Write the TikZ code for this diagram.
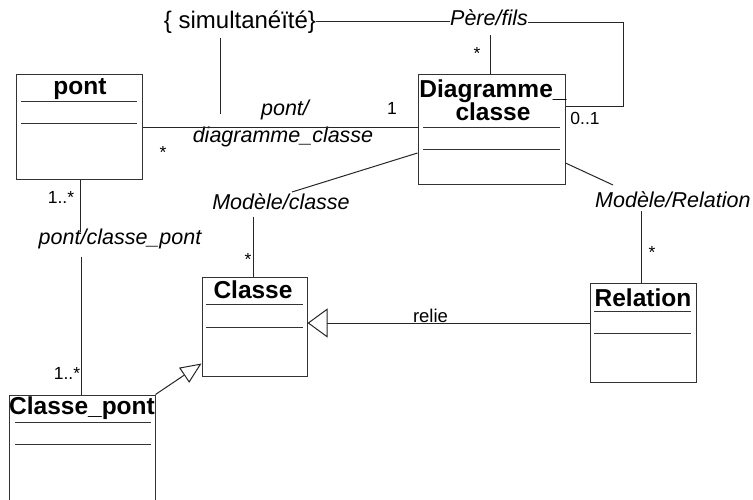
\documentclass[tikz,border=0pt]{standalone}
\usepackage{fontspec}
\setmainfont{Liberation Sans}
\usetikzlibrary{arrows.meta,calc}
\tikzset{
  cls/.style={draw=black!80, line width=1pt, inner sep=0pt},
  ttl/.style={font=\fontsize{24.5}{23}\selectfont\bfseries, inner sep=0pt},
  lab/.style={font=\fontsize{21.5}{24}\selectfont\itshape, inner sep=0pt},
  mult/.style={font=\fontsize{17.5}{20}\selectfont, inner sep=0pt},
  conn/.style={draw=black!85, line width=1pt},
  sepline/.style={draw=black!80, line width=1pt},
}
\begin{document}
\begin{tikzpicture}[x=1pt,y=-1pt]
\useasboundingbox (0,0) rectangle (753,500);
\clip (0,0) rectangle (753,500);

% class boxes
\node[cls, minimum width=126pt, minimum height=105pt] (pont) at (79,127.5) {};
\node[cls, minimum width=147pt, minimum height=110pt] (diag) at (491.5,130) {};
\node[cls, minimum width=105pt, minimum height=99pt] (classe) at (254.5,326.5) {};
\node[cls, minimum width=106pt, minimum height=99pt] (relation) at (643,332.5) {};
\node[cls, minimum width=146pt, minimum height=130pt] (cpont) at (82,460) {};

% titles
\node[ttl] (pontT) at (80,89) {pont};
\node[ttl, align=center] (diagT) at (493,100) {Diagramme\_\\classe};
\node[ttl] (classeT) at (253,290) {Classe};
\node[ttl] (relT) at (643,298) {Relation};
\node[ttl] (cpontT) at (82,408) {Classe\_pont};

% compartment separators
\draw[sepline] (21,102) -- (137,102);
\draw[sepline] (21,124) -- (137,124);
\draw[sepline] (423,128) -- (560,128);
\draw[sepline] (423,150) -- (560,150);
\draw[sepline] (206,304) -- (303,304);
\draw[sepline] (206,327) -- (303,327);
\draw[sepline] (594,311) -- (691,311);
\draw[sepline] (594,333) -- (691,333);
\draw[sepline] (15,422) -- (151,422);
\draw[sepline] (15,444) -- (151,444);

% labels
\node[font=\fontsize{24}{26}\selectfont, inner sep=0pt] (simul) at (240,22) {\{ simultanéïté\}};
\node[lab] (pf) at (489,18) {Père/fils};
\node[lab] (pd1) at (285,110) {pont/};
\node[lab] (pd2) at (283,137) {diagramme\_classe};
\node[lab] (mc) at (281,202) {Modèle/classe};
\node[lab, anchor=west] (mr) at (595,200) {Modèle/Relation};
\node[lab] (pcp) at (120,239) {pont/classe\_pont};
\node[font=\fontsize{18.5}{20}\selectfont, inner sep=0pt] (relie) at (430.5,316) {relie};

% multiplicities
\node[mult] (m1) at (163,152) {*};
\node[mult] (m2) at (392,108) {1};
\node[mult] (m3) at (477,53) {*};
\node[mult] (m4) at (585,118) {0..1};
\node[mult] (m5) at (248,259) {*};
\node[mult] (m6) at (652,252) {*};
\node[mult] (m7) at (61,197) {1..*};
\node[mult] (m8) at (67,373) {1..*};

% pont / diagramme_classe
\draw[conn] (pont.east) -- (pont.east -| diag.west);

% constraint and Pere/fils
\draw[conn] (simul.east) -- (simul.east -| pf.west);
\coordinate (pfc) at (623,107);
\draw[conn] (pf.east) ++(0,5) -| (pfc) -- (pfc -| diag.east);
\coordinate (pfb) at (490,35);
\draw[conn] (diag.north -| pfb) -- (pfb);
\coordinate (sv0) at (220,38);
\coordinate (sv) at (220,114);
\draw[conn] (sv0) -- (sv);

% Modele/classe
\coordinate (mcA) at (292,192);
\draw[conn] (diag.west) ++(0,23) -- (mcA);
\draw[conn] (classe.north) ++(-1.5,0) -- ++(0,-59);

% Modele/Relation
\coordinate (mrA) at (613,185);
\draw[conn] (diag.east) ++(0,33) -- (mrA);
\draw[conn] (relation.north) ++(-2,0) -- ++(0,-71);

% relie
\coordinate (r1) at ($(relation.west)+(0,-9.5)$);
\draw[conn, -{Triangle[open, length=20pt, width=29pt]}] (r1) -- (r1 -| classe.east);

% pont / classe_pont
\draw[conn] (pont.south) ++(1,0) -- ++(0,52);
\draw[conn] (cpont.north) ++(-1,0) -- ++(0,-138);

% generalization
\coordinate (g1) at ($(classe.west)+(0,37)$);
\draw[conn, -{Triangle[open, length=21pt, width=18pt]}] (cpont.north east) -- (g1);
\end{tikzpicture}
\end{document}
